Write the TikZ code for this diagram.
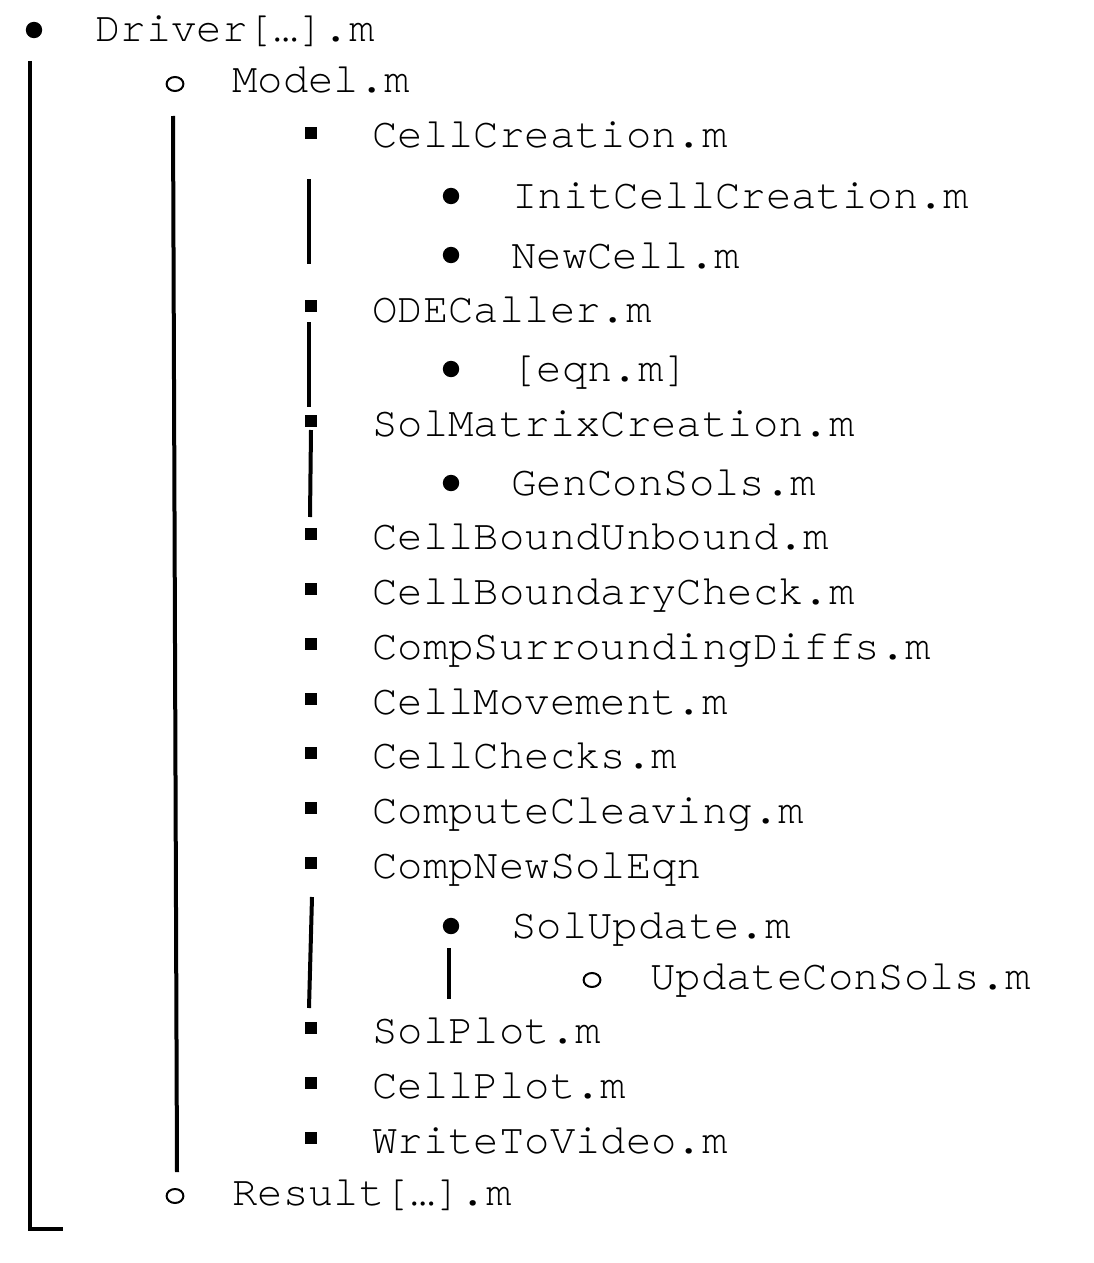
\documentclass[tikz,border=0pt]{standalone}
\usepackage{fontspec}
\usepackage{tikz}
\usetikzlibrary{shapes.geometric}
\newfontfamily\filefont[Ligatures={NoCommon,NoRare}]{TeX Gyre Cursor}

\begin{document}
\begin{tikzpicture}[x=0.5pt, y=-0.5pt,
		dot_style/.style={circle,fill=black,inner sep=0pt,minimum size=8.2pt},
		ring_style/.style={ellipse,draw=black,line width=1pt,inner sep=0pt,minimum width=8.4pt,minimum height=7pt},
		square_style/.style={rectangle,fill=black,inner sep=0pt,minimum size=5.8pt},
		text_style/.style={anchor=base west,inner sep=0pt,font=\filefont\fontsize{21.15}{25}\selectfont},
		edge_style/.style={draw=black,line width=2pt}]
		
		\useasboundingbox (0,0) rectangle (1093,1263);
		
		\node[dot_style] (b0) at (34,30)  {};
		\node[text_style] (n0) at (95,42)  {Driver[…].m};
		\node[ring_style] (b1) at (175,84)  {};
		\node[text_style] (n1) at (232,93)  {Model.m};
		\node[square_style] (b2) at (311,133)  {};
		\node[text_style] (n2) at (372,148)  {CellCreation.m};
		\node[dot_style] (b3) at (451,196)  {};
		\node[text_style] (n3) at (512,208)  {InitCellCreation.m};
		\node[dot_style] (b4) at (451,255)  {};
		\node[text_style] (n4) at (511,268)  {NewCell.m};
		\node[square_style] (b5) at (311,306)  {};
		\node[text_style] (n5) at (372,322)  {ODECaller.m};
		\node[dot_style] (b6) at (451,369)  {};
		\node[text_style] (n6) at (511,381)  {[eqn.m]};
		\node[square_style] (b7) at (311,421)  {};
		\node[text_style] (n7) at (372,436)  {SolMatrixCreation.m};
		\node[dot_style] (b8) at (451,483)  {};
		\node[text_style] (n8) at (511,495)  {GenConSols.m};
		\node[square_style] (b9) at (311,534)  {};
		\node[text_style] (n9) at (372,549)  {CellBoundUnbound.m};
		\node[square_style] (b10) at (311,589)  {};
		\node[text_style] (n10) at (372,604)  {CellBoundaryCheck.m};
		\node[square_style] (b11) at (311,644)  {};
		\node[text_style] (n11) at (372,659)  {CompSurroundingDiffs.m};
		\node[square_style] (b12) at (311,699)  {};
		\node[text_style] (n12) at (372,714)  {CellMovement.m};
		\node[square_style] (b13) at (311,753)  {};
		\node[text_style] (n13) at (372,768)  {CellChecks.m};
		\node[square_style] (b14) at (311,808)  {};
		\node[text_style] (n14) at (372,823)  {ComputeCleaving.m};
		\node[square_style] (b15) at (311,863)  {};
		\node[text_style] (n15) at (372,878)  {CompNewSolEqn};
		\node[dot_style] (b16) at (451,926)  {};
		\node[text_style] (n16) at (511,938)  {SolUpdate.m};
		\node[ring_style] (b17) at (592,980)  {};
		\node[text_style] (n17) at (650,989)  {UpdateConSols.m};
		\node[square_style] (b18) at (311,1028)  {};
		\node[text_style] (n18) at (372,1043)  {SolPlot.m};
		\node[square_style] (b19) at (311,1083)  {};
		\node[text_style] (n19) at (372,1098)  {CellPlot.m};
		\node[square_style] (b20) at (311,1138)  {};
		\node[text_style] (n20) at (372,1153)  {WriteToVideo.m};
		\node[ring_style] (b21) at (175,1196)  {};
		\node[text_style] (n21) at (232,1205)  {Result[…].m};
		
		\coordinate (c0) at (30,61);
		\coordinate (c1) at (30,1229);
		\coordinate (c2) at (63,1229);
		\coordinate (c3) at (173,116);
		\coordinate (c4) at (177,1172);
		\coordinate (c5) at (309,179);
		\coordinate (c6) at (309,264);
		\coordinate (c7) at (309,322);
		\coordinate (c8) at (309,407);
		\coordinate (c9) at (311,430);
		\coordinate (c10) at (310,517);
		\coordinate (c11) at (312,897);
		\coordinate (c12) at (309,1008);
		\coordinate (c13) at (449,948);
		\coordinate (c14) at (449,999);
		
		\draw[edge_style]  (c0) -- (c1) -- (c2);
		\draw[edge_style]  (c3) edge node{} (c4);
		\draw[edge_style]  (c5) edge node{} (c6);
		\draw[edge_style]  (c7) edge node{} (c8);
		\draw[edge_style]  (c9) edge node{} (c10);
		\draw[edge_style]  (c11) edge node{} (c12);
		\draw[edge_style]  (c13) edge node{} (c14);
		\end{tikzpicture}
\end{document}
